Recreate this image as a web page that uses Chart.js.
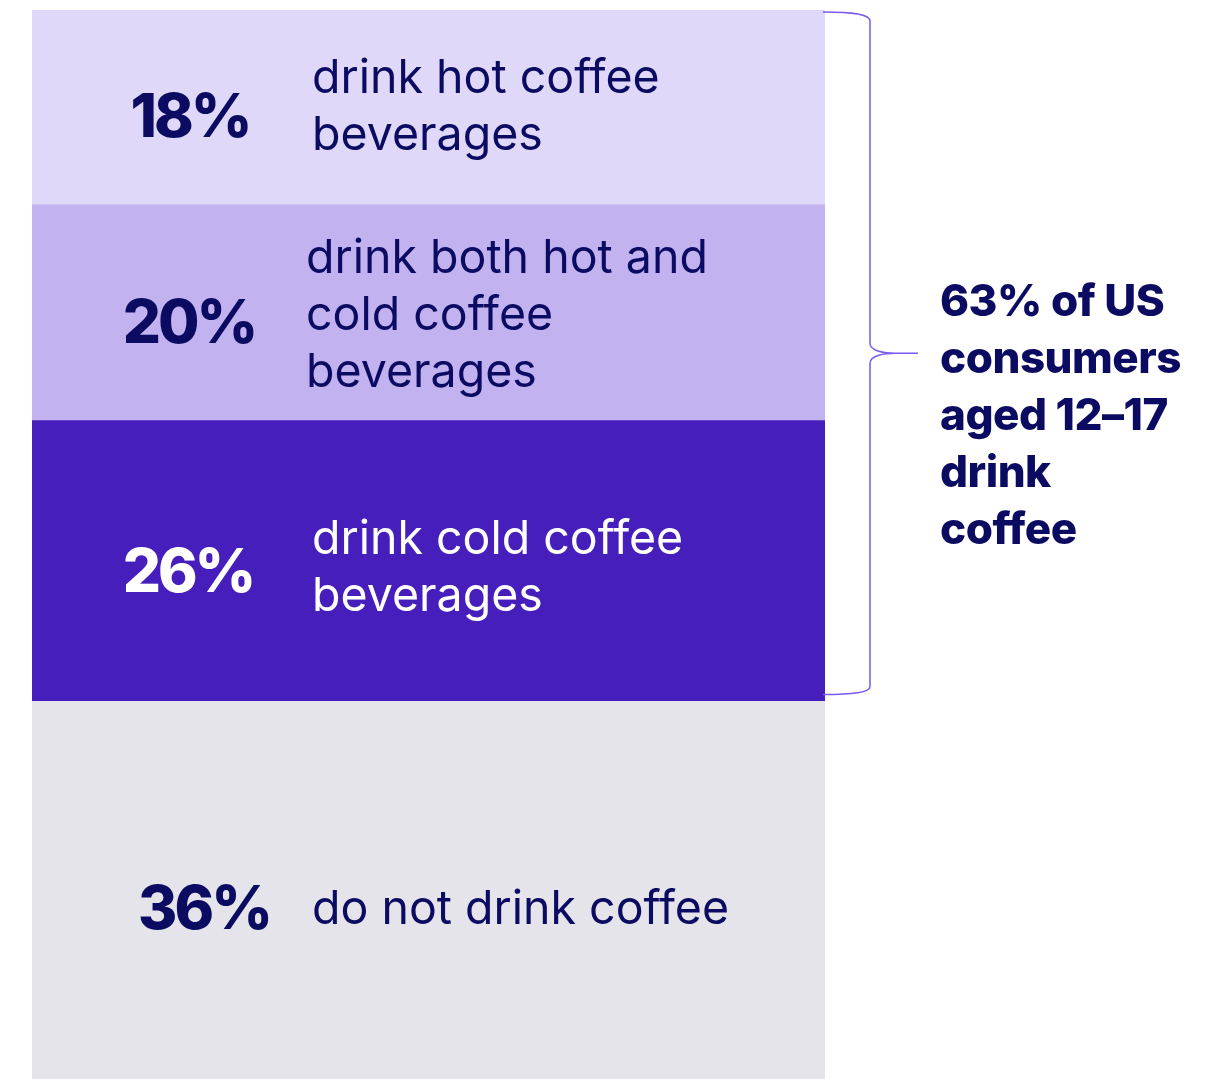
<!DOCTYPE html>
<html>
<head>
<meta charset="utf-8">
<script src="https://cdn.jsdelivr.net/npm/chart.js@4"></script>
<style>
    html, body { margin: 0; padding: 0; background: #ffffff; overflow: hidden; }
    #wrap { width: 1230px; height: 1089px; }
</style>
</head>
<body>
<div id="wrap"><canvas id="coffeeChart" width="1230" height="1089"></canvas></div>
<script>
// Coffee drinking among US consumers aged 12-17
const categories = ['US consumers aged 12-17'];
const shares = [18, 20, 26, 36];
const segmentLines = [
    ['drink hot coffee', 'beverages'],
    ['drink both hot and', 'cold coffee', 'beverages'],
    ['drink cold coffee', 'beverages'],
    ['do not drink coffee']
];
const segmentColors = ['#dfd8f8', '#c2b2f0', '#461ebb', '#e5e4eb'];
const textColors = ['#0b0b62', '#0b0b62', '#ffffff', '#0b0b62'];
const noteLines = ['63% of US', 'consumers', 'aged 12\u201317', 'drink', 'coffee'];

// Percent + description text inside each segment, and the brace on the right
const segmentText = {
    id: 'segmentText',
    afterDatasetsDraw(chart, args, opts) {
        const ctx = chart.ctx;
        ctx.save();
        chart.data.datasets.forEach((ds, i) => {
            const bar = chart.getDatasetMeta(i).data[0];
            const top = Math.min(bar.y, bar.base);
            const bottom = Math.min(Math.max(bar.y, bar.base), chart.chartArea.bottom);
            const mid = (top + bottom) / 2;

            ctx.fillStyle = textColors[i];
            ctx.textBaseline = 'alphabetic';

            // big percentage
            ctx.font = '800 60px Inter';
            ctx.letterSpacing = '-3px';
            ctx.textAlign = 'center';
            ctx.fillText(ds.data[0] + '%', opts.pctX[i], mid + 30 + opts.shift[i] * 0.3);

            // description
            ctx.font = '46.5px Inter';
            ctx.letterSpacing = '0px';
            ctx.textAlign = 'left';
            const lines = segmentLines[i];
            const first = mid - (lines.length - 1) * opts.lineHeight / 2 + 16 + opts.shift[i];
            lines.forEach((line, j) => {
                ctx.fillText(line, opts.textX[i], first + j * opts.lineHeight);
            });
        });

        // brace around the coffee drinkers
        const a = chart.getDatasetMeta(0).data[0];
        const c = chart.getDatasetMeta(2).data[0];
        const x0 = a.x + a.width / 2 - 2;
        const y0 = Math.min(a.y, a.base) + 2;
        const y1 = Math.max(c.y, c.base) - 6;
        const ym = (y0 + y1) / 2;
        const xl = x0 + 47;
        const xt = x0 + 95;

        ctx.strokeStyle = '#7a5af0';
        ctx.lineWidth = 1.5;
        ctx.beginPath();
        ctx.moveTo(x0, y0);
        ctx.bezierCurveTo(x0 + 30, y0, xl, y0 + 2, xl, y0 + 9);
        ctx.lineTo(xl, ym - 10);
        ctx.bezierCurveTo(xl, ym - 2, xl + 15, ym, xl + 25, ym);
        ctx.lineTo(xt, ym);
        ctx.moveTo(xl + 25, ym);
        ctx.bezierCurveTo(xl + 15, ym, xl, ym + 2, xl, ym + 10);
        ctx.lineTo(xl, y1 - 8);
        ctx.bezierCurveTo(xl, y1 - 2, x0 + 30, y1, x0, y1);
        ctx.stroke();

        // note next to the brace
        ctx.fillStyle = '#0b0b62';
        ctx.font = '800 44px Inter';
        ctx.letterSpacing = '-0.5px';
        ctx.textAlign = 'left';
        noteLines.forEach((line, j) => {
            ctx.fillText(line, 940, ym - 37 + j * 57);
        });
        ctx.restore();
    }
};

new Chart(document.getElementById('coffeeChart'), {
    type: 'bar',
    data: {
        labels: categories,
        datasets: shares.map((v, i) => ({
            label: segmentLines[i].join(' '),
            data: [v],
            backgroundColor: segmentColors[i],
            borderWidth: 0,
            barPercentage: 1,
            categoryPercentage: 1
        }))
    },
    options: {
        responsive: false,
        animation: false,
        layout: { padding: { left: 32, right: 405, top: 10, bottom: 0 } },
        scales: {
            x: { stacked: true, display: false },
            y: { stacked: true, reverse: true, min: 0, max: 100, display: false }
        },
        plugins: {
            legend: { display: false },
            tooltip: { enabled: false },
            segmentText: {
                pctX: [190, 189, 188, 204],
                textX: [312, 306, 312, 312],
                shift: [-2, 2, 6, 13],
                lineHeight: 57
            }
        }
    },
    plugins: [segmentText]
});
</script>
</body>
</html>
